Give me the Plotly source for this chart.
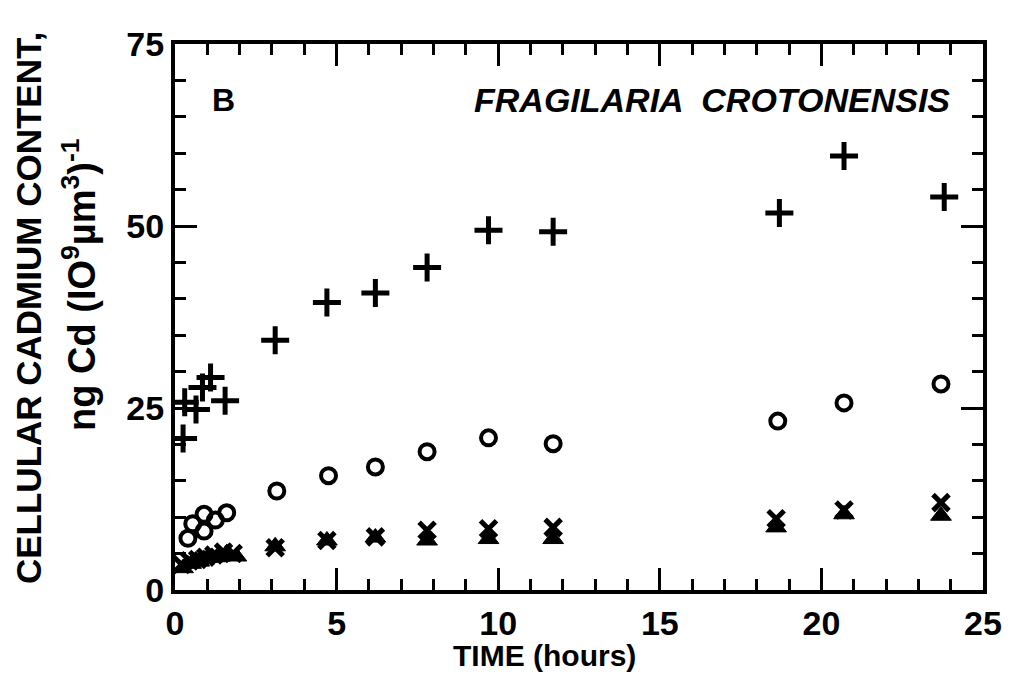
import plotly.graph_objects as go

# ---- data (time in hours, cadmium content) ----
plus_x = [0.25, 0.3, 0.65, 0.85, 1.1, 1.55, 3.1, 4.7, 6.2, 7.8, 9.7, 11.7, 18.7, 20.7, 23.8]
plus_y = [20.8, 25.8, 24.8, 27.8, 29.2, 26.0, 34.3, 39.5, 40.8, 44.3, 49.4, 49.2, 51.8, 59.6, 54.0]

circ_x = [0.4, 0.55, 0.9, 0.9, 1.25, 1.6, 3.15, 4.75, 6.2, 7.8, 9.7, 11.7, 18.65, 20.7, 23.7]
circ_y = [7.1, 9.1, 10.4, 8.1, 9.6, 10.6, 13.6, 15.7, 16.9, 19.0, 20.9, 20.1, 23.2, 25.7, 28.3]

xmk_x = [0.2, 0.45, 0.7, 0.95, 1.2, 1.5, 1.8, 3.1, 4.7, 6.2, 7.8, 9.7, 11.7, 18.6, 20.7, 23.7]
xmk_y = [3.5, 4.0, 4.2, 4.5, 4.8, 5.2, 5.0, 5.8, 6.8, 7.3, 8.2, 8.4, 8.6, 9.8, 11.0, 12.0]

tri_x = [0.25, 0.5, 0.75, 1.0, 1.3, 1.6, 1.9, 3.1, 4.7, 6.2, 7.8, 9.7, 11.7, 18.6, 20.7, 23.7]
tri_y = [3.0, 3.6, 3.9, 4.4, 4.5, 5.0, 4.6, 6.0, 6.8, 7.2, 6.8, 7.0, 7.0, 8.6, 10.4, 10.2]

x_ticks = [0, 5, 10, 15, 20, 25]
y_ticks = [0, 25, 50, 75]

FONT = "Liberation Sans, Arial, sans-serif"

fig = go.Figure()
fig.add_trace(go.Scatter(x=plus_x, y=plus_y, mode="markers",
                         marker=dict(symbol="cross-thin", size=20, color="black",
                                     line=dict(color="black", width=5))))
fig.add_trace(go.Scatter(x=circ_x, y=circ_y, mode="markers",
                         marker=dict(symbol="circle-open", size=15, color="black",
                                     line=dict(color="black", width=4))))
fig.add_trace(go.Scatter(x=tri_x, y=tri_y, mode="markers",
                         marker=dict(symbol="triangle-up", size=18, color="black",
                                     line=dict(color="black", width=1))))
fig.add_trace(go.Scatter(x=xmk_x, y=xmk_y, mode="markers",
                         marker=dict(symbol="x-thin", size=16, color="black",
                                     line=dict(color="black", width=5))))

axis_common = dict(showline=True, linecolor="black", linewidth=4, mirror="allticks",
                   ticks="inside", tickcolor="black", tickwidth=3, ticklen=22,
                   showgrid=False, zeroline=False, automargin=False,
                   tickfont=dict(family=FONT, size=34, color="black", weight="bold"))

fig.update_xaxes(range=[0, 25], tickvals=x_ticks, ticktext=[str(v) for v in x_ticks],
                 minor=dict(dtick=1, ticklen=11, tickwidth=3, tickcolor="black", ticks="inside"),
                 **axis_common)
fig.update_yaxes(range=[0, 75], tickvals=y_ticks, ticktext=[str(v) for v in y_ticks],
                 minor=dict(dtick=5, ticklen=11, tickwidth=3, tickcolor="black", ticks="inside"),
                 **axis_common)

# axis titles as annotations (fixed positions)
fig.add_annotation(xref="paper", yref="paper", x=0.457, y=-0.12, text="TIME (hours)",
                   showarrow=False, xanchor="center", yanchor="middle",
                   font=dict(family=FONT, size=30, color="black", weight="bold"))
fig.add_annotation(xref="paper", yref="paper", x=-0.181, y=0.516, text="CELLULAR CADMIUM CONTENT,",
                   showarrow=False, textangle=-90, xanchor="center", yanchor="middle",
                   font=dict(family=FONT, size=35, color="black", weight="bold"))
fig.add_annotation(xref="paper", yref="paper", x=-0.118, y=0.56,
                   text="ng Cd (IO<sup>9</sup>µm<sup>3</sup>)<sup>-1</sup>",
                   showarrow=False, textangle=-90, xanchor="center", yanchor="middle",
                   font=dict(family=FONT, size=38, color="black", weight="bold"))

fig.add_annotation(x=1.5, y=67.3, text="B", showarrow=False,
                   font=dict(family=FONT, size=32, color="black", weight="bold"))
fig.add_annotation(x=16.6, y=67.3, text="<i>FRAGILARIA  CROTONENSIS</i>", showarrow=False,
                   font=dict(family=FONT, size=34, color="black", weight="bold"))

# margins compensate the page's default 8px body offset
fig.update_layout(width=1014, height=677, showlegend=False,
                  plot_bgcolor="white", paper_bgcolor="white",
                  margin=dict(l=167, r=39, t=36, b=95))

fig.write_html("out.html")
